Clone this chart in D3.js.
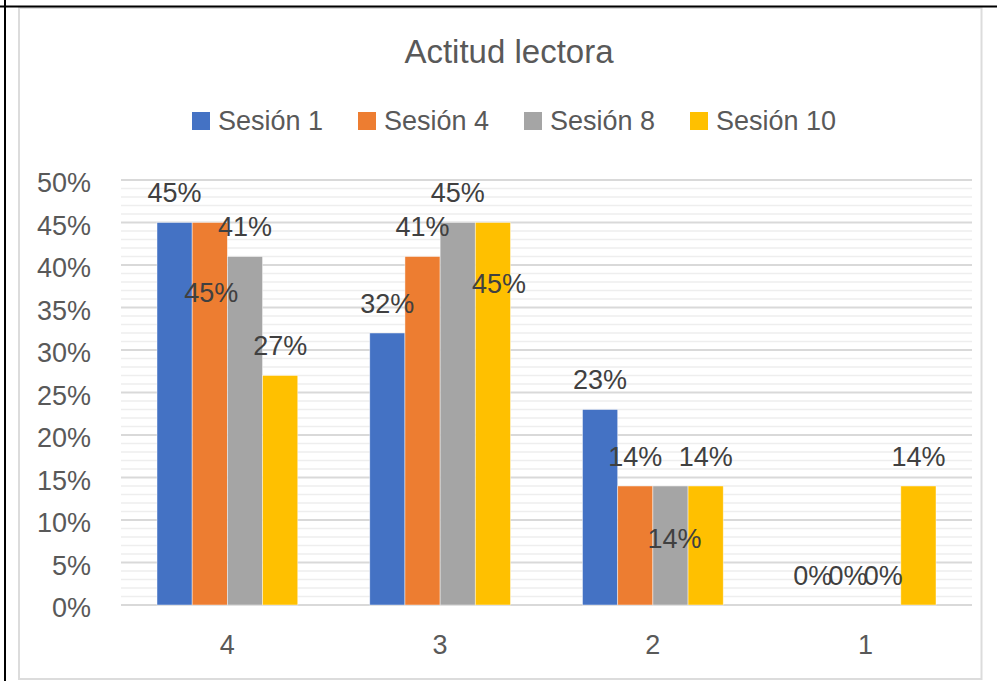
<!DOCTYPE html>
<html>
<head>
<meta charset="utf-8">
<script src="https://cdn.jsdelivr.net/npm/d3@7"></script>
<style>
  body { margin: 0; background: #fff; }
  svg { display: block; font-family: "Liberation Sans", Arial, sans-serif; }
</style>
</head>
<body>
<svg id="grafico" width="997" height="681"></svg>
<script>
// datos
var categorias = ["4", "3", "2", "1"];
var sesiones = ["Sesión 1", "Sesión 4", "Sesión 8", "Sesión 10"];
var sesion1 = [0.45, 0.32, 0.23, 0.00];
var sesion4 = [0.45, 0.41, 0.14, 0.00];
var sesion8 = [0.41, 0.45, 0.14, 0.00];
var sesion10 = [0.27, 0.45, 0.14, 0.14];
var ticksY = [0, 0.05, 0.10, 0.15, 0.20, 0.25, 0.30, 0.35, 0.40, 0.45, 0.50];

var series = [sesion1, sesion4, sesion8, sesion10];
var colores = ["#4472C4", "#ED7D31", "#A5A5A5", "#FFC000"];

// etiquetas que se movieron a mano en el original (serie-categoria -> [dx, dy])
var ajusteEtiquetas = {
    "1-0": [1.5, 100],
    "3-1": [6, 91],
    "2-2": [4, 82.5]
};

var svg = d3.select("#grafico");

// marcos
svg.append("rect")
    .attr("x", 19).attr("y", 8)
    .attr("width", 962.5).attr("height", 671)
    .attr("fill", "none")
    .attr("stroke", "#dcdcdc")
    .attr("stroke-width", 2);
svg.append("line")
    .attr("x1", 0).attr("x2", 997).attr("y1", 6.5).attr("y2", 6.5)
    .attr("stroke", "#000").attr("stroke-width", 2);
svg.append("line")
    .attr("x1", 5).attr("x2", 5).attr("y1", 0).attr("y2", 681)
    .attr("stroke", "#000").attr("stroke-width", 2);

var x0 = d3.scaleBand().domain(categorias).range([121, 972]);
var x1 = d3.scaleBand().domain(d3.range(sesiones.length))
    .range([36, x0.bandwidth() - 36]);
var y = d3.scaleLinear().domain([0, 0.5]).range([605, 180]);

// rejilla menor y mayor
var menores = d3.range(0, 51).map(function(d) { return d / 100; });
svg.append("g").selectAll("line")
    .data(menores.filter(function(d) { return Math.round(d * 100) % 5 != 0; }))
    .join("line")
    .attr("x1", 121).attr("x2", 972)
    .attr("y1", function(d) { return y(d); })
    .attr("y2", function(d) { return y(d); })
    .attr("stroke", "#eeeeee")
    .attr("stroke-width", 1.5);
svg.append("g").selectAll("line")
    .data(ticksY)
    .join("line")
    .attr("x1", 121).attr("x2", 972)
    .attr("y1", function(d) { return y(d); })
    .attr("y2", function(d) { return y(d); })
    .attr("stroke", "#d9d9d9")
    .attr("stroke-width", 2);

// eje y
var ejeY = svg.append("g")
    .attr("transform", "translate(121,0)")
    .call(d3.axisLeft(y).tickValues(ticksY).tickSize(0).tickPadding(30)
        .tickFormat(d3.format(".0%")));
ejeY.select(".domain").remove();
ejeY.selectAll("text")
    .attr("font-size", 27)
    .attr("font-family", "Liberation Sans, Arial, sans-serif")
    .attr("fill", "#595959")
    .attr("dy", "0.43em");

// eje x
var ejeX = svg.append("g")
    .attr("transform", "translate(0,605)")
    .call(d3.axisBottom(x0).tickSize(0).tickPadding(30));
ejeX.select(".domain").remove();
ejeX.selectAll("text")
    .attr("font-size", 27)
    .attr("font-family", "Liberation Sans, Arial, sans-serif")
    .attr("fill", "#595959")
    .attr("dy", "0.71em");

// barras
var grupos = svg.append("g").selectAll("g")
    .data(series)
    .join("g")
    .attr("fill", function(d, i) { return colores[i]; });

grupos.selectAll("rect")
    .data(function(d, i) { return d.map(function(v, j) { return {s: i, c: j, v: v}; }); })
    .join("rect")
    .attr("x", function(d) { return x0(categorias[d.c]) + x1(d.s); })
    .attr("y", function(d) { return y(d.v); })
    .attr("width", x1.bandwidth())
    .attr("height", function(d) { return y(0) - y(d.v); })
    .attr("stroke", "#ffffff")
    .attr("stroke-opacity", 0.6)
    .attr("stroke-width", 0.75);

// etiquetas de datos
var etiquetas = svg.append("g").selectAll("text")
    .data(series.flatMap(function(d, i) {
        return d.map(function(v, j) { return {s: i, c: j, v: v}; });
    }))
    .join("text")
    .attr("x", function(d) {
        var aj = ajusteEtiquetas[d.s + "-" + d.c] || [0, 0];
        return x0(categorias[d.c]) + x1(d.s) + x1.bandwidth() / 2 + aj[0];
    })
    .attr("y", function(d) {
        var aj = ajusteEtiquetas[d.s + "-" + d.c] || [0, 0];
        return y(d.v) - 20.5 + aj[1];
    })
    .attr("text-anchor", "middle")
    .attr("font-size", 27)
    .attr("fill", "#404040")
    .text(function(d) { return d3.format(".0%")(d.v); });

// titulo
svg.append("text")
    .attr("x", 509).attr("y", 63)
    .attr("text-anchor", "middle")
    .attr("font-size", 33)
    .attr("fill", "#595959")
    .text("Actitud lectora");

// leyenda
var leyenda = svg.append("g").selectAll("g")
    .data(sesiones)
    .join("g")
    .attr("transform", function(d, i) { return "translate(" + (192 + i * 166) + ",0)"; });
leyenda.append("rect")
    .attr("x", 0).attr("y", 112)
    .attr("width", 18).attr("height", 18)
    .attr("fill", function(d, i) { return colores[i]; });
leyenda.append("text")
    .attr("x", 26).attr("y", 130)
    .attr("font-size", 27)
    .attr("fill", "#595959")
    .text(function(d) { return d; });
</script>
</body>
</html>
